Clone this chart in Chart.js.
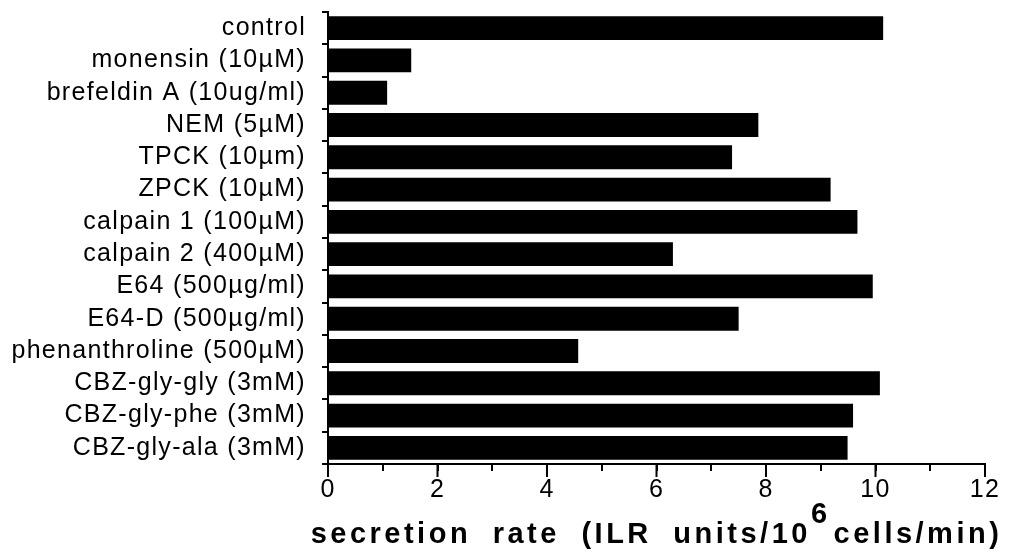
<!DOCTYPE html>
<html>
<head>
<meta charset="utf-8">
<script src="https://cdn.jsdelivr.net/npm/chart.js@4.4.0/dist/chart.umd.min.js"></script>
<style>
    html, body { margin: 0; padding: 0; background: #fff; }
    #wrap { width: 1019px; height: 554px; position: relative; }
</style>
</head>
<body>
<div id="wrap"><canvas id="chart"></canvas></div>
<script>
const categories = [
    'control',
    'monensin (10µM)',
    'brefeldin A (10ug/ml)',
    'NEM (5µM)',
    'TPCK (10µm)',
    'ZPCK (10µM)',
    'calpain 1 (100µM)',
    'calpain 2 (400µM)',
    'E64 (500µg/ml)',
    'E64-D (500µg/ml)',
    'phenanthroline (500µM)',
    'CBZ-gly-gly (3mM)',
    'CBZ-gly-phe (3mM)',
    'CBZ-gly-ala (3mM)'
];
const secretionRates = [10.14, 1.52, 1.08, 7.86, 7.38, 9.18, 9.67, 6.30, 9.95, 7.50, 4.57, 10.08, 9.59, 9.49];
const majorTicks = [0, 2, 4, 6, 8, 10, 12];
const titleMain = 'secretion rate (ILR units/10';
const titleSup = '6';
const titleEnd = 'cells/min)';

// letter spacing for tick labels, longer major ticks and the axis title
const extrasPlugin = {
    id: 'extras',
    beforeDraw(chart) {
        chart.ctx.letterSpacing = '1.3px';
    },
    afterDraw(chart) {
        const ctx = chart.ctx;
        ctx.letterSpacing = '0px';
        const x = chart.scales.x;
        ctx.save();
        ctx.strokeStyle = '#000';
        ctx.lineWidth = 2;
        majorTicks.forEach(v => {
            const px = x.getPixelForValue(v);
            ctx.beginPath();
            ctx.moveTo(px, x.top);
            ctx.lineTo(px, x.top + 13);
            ctx.stroke();
        });

        ctx.font = 'bold 29px "Liberation Sans"';
        ctx.letterSpacing = '3.5px';
        ctx.wordSpacing = '10px';
        ctx.fillStyle = '#000';
        ctx.textAlign = 'left';
        ctx.textBaseline = 'alphabetic';
        const w1 = ctx.measureText(titleMain).width;
        const wS = ctx.measureText(titleSup).width;
        const w2 = ctx.measureText(titleEnd).width;
        const total = w1 + wS + 3 + w2;
        const cx = (chart.chartArea.left + chart.chartArea.right) / 2;
        const sx = cx - total / 2;
        const base = chart.height - 11;
        ctx.fillText(titleMain, sx, base);
        ctx.fillText(titleSup, sx + w1, base - 20);
        ctx.fillText(titleEnd, sx + w1 + wS + 3, base);
        ctx.restore();
        ctx.letterSpacing = '0px';
        ctx.wordSpacing = '0px';
    }
};

new Chart(document.getElementById('chart').getContext('2d'), {
    type: 'bar',
    data: {
        labels: categories,
        datasets: [{
            data: secretionRates,
            backgroundColor: '#000',
            borderWidth: 0,
            barPercentage: 0.74,
            categoryPercentage: 1
        }]
    },
    options: {
        indexAxis: 'y',
        responsive: true,
        maintainAspectRatio: false,
        animation: false,
        layout: {
            padding: { top: 12, right: 34, left: 0, bottom: 0 }
        },
        plugins: {
            legend: { display: false },
            tooltip: { enabled: false }
        },
        scales: {
            x: {
                type: 'linear',
                min: 0,
                max: 12,
                afterFit: scale => { scale.height = 90; },
                ticks: {
                    stepSize: 1,
                    autoSkip: false,
                    maxRotation: 0,
                    padding: 4,
                    color: '#000',
                    font: { family: '"Liberation Sans"', size: 25 },
                    callback: v => (v % 2 === 0 ? v : '')
                },
                grid: {
                    drawOnChartArea: false,
                    tickLength: 7,
                    color: '#000',
                    lineWidth: 2
                },
                border: { color: '#000', width: 2 }
            },
            y: {
                offset: true,
                afterFit: scale => {
                    scale.width = 328;
                    scale.paddingTop = 0;
                    scale.paddingBottom = 0;
                },
                ticks: {
                    autoSkip: false,
                    padding: 16,
                    color: '#000',
                    font: { family: '"Liberation Sans"', size: 25 }
                },
                grid: {
                    offset: true,
                    drawOnChartArea: false,
                    tickLength: 6,
                    color: '#000',
                    lineWidth: 2
                },
                border: { color: '#000', width: 2 }
            }
        }
    },
    plugins: [extrasPlugin]
});
</script>
</body>
</html>
